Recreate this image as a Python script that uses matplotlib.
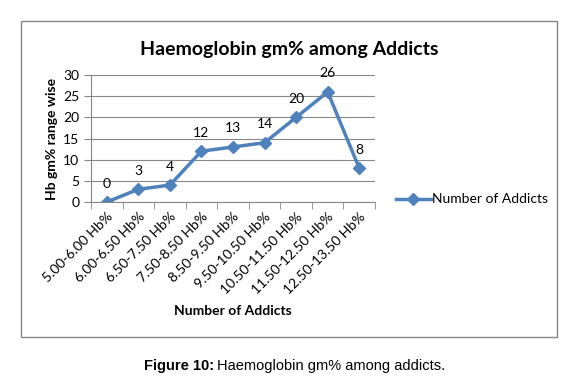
import matplotlib
matplotlib.use("Agg")
import matplotlib.pyplot as plt
from matplotlib.patches import Rectangle

# ---
# Chart data.
categories = ["5.00-6.00 Hb%", "6.00-6.50 Hb%", "6.50-7.50 Hb%", "7.50-8.50 Hb%",
              "8.50-9.50 Hb%", "9.50-10.50 Hb%", "10.50-11.50 Hb%",
              "11.50-12.50 Hb%", "12.50-13.50 Hb%"]
addicts = [0, 3, 4, 12, 13, 14, 20, 26, 8]
y_ticks = [0, 5, 10, 15, 20, 25, 30]

blue = "#4F81BD"
grey = "#868686"
plt.rcParams["font.family"] = ["Lato", "DejaVu Sans"]

fig = plt.figure(figsize=(5.81, 3.8), dpi=100)

# Outer chart frame.
fig.patches.append(Rectangle((21 / 581, 1 - 337 / 380), (557 - 21) / 581, (337 - 21) / 380,
                             transform=fig.transFigure, fill=False,
                             edgecolor=grey, linewidth=1))

ax = fig.add_axes([91 / 581, 1 - 202 / 380, (375 - 91) / 581, (202 - 75) / 380])

x = list(range(len(categories)))
ax.plot(x, addicts, color=blue, linewidth=2.5, marker="D", markersize=6.5,
        label="Number of Addicts")
for xi, v in zip(x, addicts):
    ax.annotate(str(v), (xi, v), xytext=(0, 9), textcoords="offset points",
                ha="center", va="bottom", fontsize=10)

ax.set_xlim(-0.5, len(categories) - 0.5)
ax.set_ylim(0, 30)
ax.set_yticks(y_ticks)
ax.yaxis.grid(True, color=grey, linewidth=0.8)
ax.set_axisbelow(True)

# Category labels centred under points, ticks at boundaries.
ax.set_xticks(x)
ax.set_xticklabels(categories, rotation=45, ha="right", rotation_mode="anchor",
                   fontsize=10)
ax.tick_params(axis="x", length=0, pad=6)
ax.set_xticks([i - 0.5 for i in range(len(categories) + 1)], minor=True)
ax.tick_params(axis="x", which="minor", length=5, color=grey)
ax.tick_params(axis="y", length=5, color=grey, labelsize=10)

for s in ["top", "right"]:
    ax.spines[s].set_visible(False)
ax.spines["left"].set_color(grey)
ax.spines["bottom"].set_color(grey)

ax.set_ylabel("Hb gm% range wise", fontsize=10, fontweight="bold")
ax.set_xlabel("Number of Addicts", fontsize=10, fontweight="bold")
ax.xaxis.set_label_coords(0.5, -0.81)
ax.yaxis.set_label_coords(-0.116, 0.5)

fig.text(289 / 581, 1 - 49 / 380, "Haemoglobin gm% among Addicts",
         ha="center", va="center", fontsize=14, fontweight="bold")

ax.legend(loc="center left", bbox_to_anchor=(1.03, 0.02), frameon=False,
          fontsize=10, handlelength=2.5, handletextpad=0.1)

# Caption below the chart: bold lead-in, then plain text.
cap_y = 1 - 366 / 380
lead = fig.text(144 / 581, cap_y, "Figure 10:", ha="left", va="center",
                fontsize=10.5, fontweight="bold", family="Liberation Sans")
fig.canvas.draw()
bb = lead.get_window_extent().transformed(fig.transFigure.inverted())
fig.text(bb.x1 + 3 / 581, cap_y, "Haemoglobin gm% among addicts.", ha="left",
         va="center", fontsize=10.5, family="Liberation Sans")

fig.savefig("out.png", dpi=100)
